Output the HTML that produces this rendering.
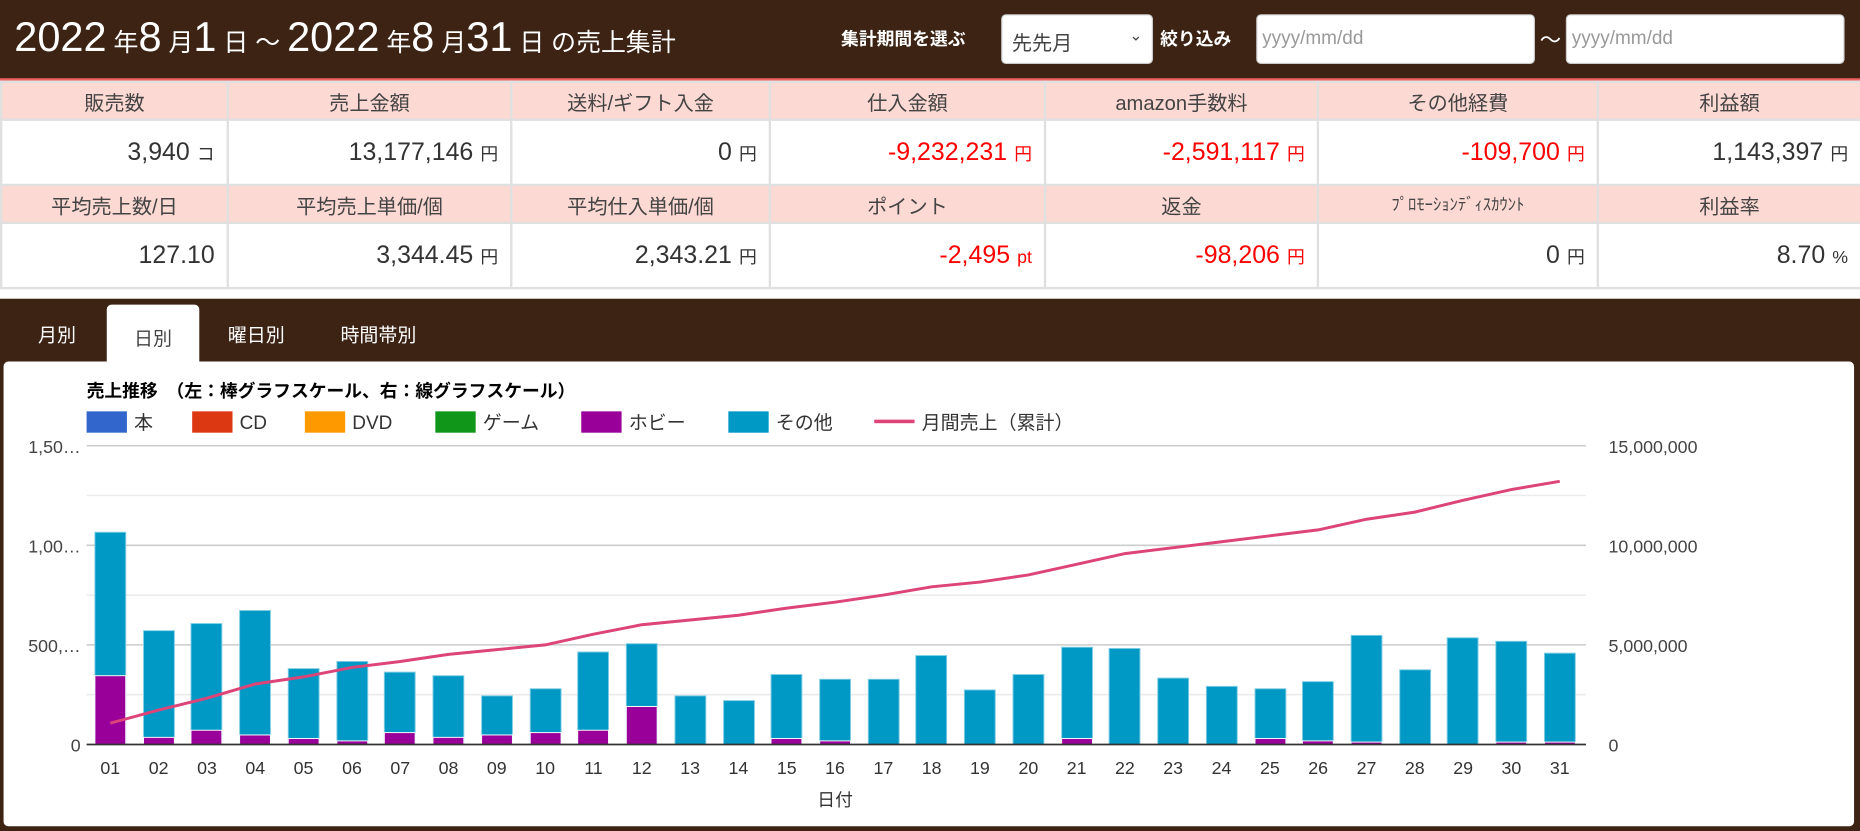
<!DOCTYPE html>
<html><head><meta charset="utf-8">
<style>
html,body{margin:0;padding:0;width:1860px;height:831px;overflow:hidden;background:#fff;}
#w{position:absolute;left:0;top:0;width:1568px;height:701px;transform:scale(1.18622,1.18545);transform-origin:0 0;font-family:"Liberation Sans","Noto Sans CJK JP",sans-serif;color:#333;}
.hdr{position:absolute;left:0;top:0;width:1568px;height:66px;background:#3c2314;border-bottom:2px solid #f06262;}
.ttl{position:absolute;left:12px;top:12px;color:#fff;font-size:21px;white-space:nowrap;}
.ttl b{font-weight:normal;font-size:35px;}
.lbl{position:absolute;color:#fff;font-weight:bold;font-size:15px;top:22px;}
.box{position:absolute;top:12px;height:42px;background:#fff;border-radius:4px;border:1px solid #ccc;box-sizing:border-box;font-size:16px;color:#999;padding:11px 4px;}
table{position:absolute;left:0;top:68px;width:1568px;border-collapse:collapse;table-layout:fixed;}
td{border:2px solid #e0e0e0;font-size:17px;}
tr.h td{background:#fdd9d3;text-align:center;height:28px;color:#444;}
tr.v td{height:51px;text-align:right;padding-right:10px;font-size:21px;color:#333;}
tr.v td small{font-size:15px;margin-left:6px;}
.r{color:#f00 !important;}
.tabs{position:absolute;left:0;top:252px;width:1568px;height:449px;background:#3c2314;}
.tab{position:absolute;top:17px;color:#fff;font-size:16px;}
.panel{position:absolute;left:3px;top:53px;width:1560px;height:392px;background:#fff;border-radius:4px;}
</style></head><body><div id="w">
<div class="hdr">
<div class="ttl"><b>2022</b> 年<b>8</b> 月<b>1</b> 日 ～ <b>2022</b> 年<b>8</b> 月<b>31</b> 日 の売上集計</div>
<div class="lbl" style="left:709px">集計期間を選ぶ</div>
<div class="box" style="left:844px;width:128px;color:#444;font-size:17px;padding:9px 8px">先先月<span style="position:absolute;right:8px;top:9px;font-size:13px">&#8964;</span></div>
<div class="lbl" style="left:978px">絞り込み</div>
<div class="box" style="left:1059px;width:235px">yyyy/mm/dd</div>
<div class="lbl" style="left:1298px;font-weight:normal;font-size:18px;top:20px">～</div>
<div class="box" style="left:1320px;width:235px">yyyy/mm/dd</div>
</div>
<table>
<colgroup><col style="width:191px"><col style="width:239px"><col style="width:218px"><col style="width:232px"><col style="width:230px"><col style="width:236px"><col style="width:222px"></colgroup>
<tr class="h"><td>販売数</td><td>売上金額</td><td>送料/ギフト入金</td><td>仕入金額</td><td>amazon手数料</td><td>その他経費</td><td>利益額</td></tr>
<tr class="v"><td>3,940<small>コ</small></td><td>13,177,146<small>円</small></td><td>0<small>円</small></td><td class="r">-9,232,231<small>円</small></td><td class="r">-2,591,117<small>円</small></td><td class="r">-109,700<small>円</small></td><td>1,143,397<small>円</small></td></tr>
<tr class="h"><td>平均売上数/日</td><td>平均売上単価/個</td><td>平均仕入単価/個</td><td>ポイント</td><td>返金</td><td style="font-size:14px">ﾌﾟﾛﾓｰｼｮﾝﾃﾞｨｽｶｳﾝﾄ</td><td>利益率</td></tr>
<tr class="v"><td>127.10</td><td>3,344.45<small>円</small></td><td>2,343.21<small>円</small></td><td class="r">-2,495<small>pt</small></td><td class="r">-98,206<small>円</small></td><td>0<small>円</small></td><td>8.70<small>%</small></td></tr>
</table>
<div class="tabs">
<div style="position:absolute;left:90px;top:5px;width:78px;height:50px;background:#fff;border-radius:4px 4px 0 0"></div>
<div class="tab" style="left:32px">月別</div>
<div class="tab" style="left:113px;color:#444;top:20px">日別</div>
<div class="tab" style="left:192px">曜日別</div>
<div class="tab" style="left:287px">時間帯別</div>
<div class="panel"></div>
</div>
<svg style="position:absolute;left:0;top:0" width="1568" height="701" font-family="Liberation Sans, Noto Sans CJK JP, sans-serif">
<text x="73" y="335" font-size="15" font-weight="bold" fill="#000">売上推移　（左：棒グラフスケール、右：線グラフスケール）</text>
<g font-size="16" fill="#333">
<rect x="73" y="347" width="34" height="18" fill="#3366cc"/><text x="113" y="362">本</text>
<rect x="162" y="347" width="34" height="18" fill="#dc3912"/><text x="202" y="362">CD</text>
<rect x="257" y="347" width="34" height="18" fill="#ff9900"/><text x="297" y="362">DVD</text>
<rect x="367" y="347" width="34" height="18" fill="#109618"/><text x="407" y="362">ゲーム</text>
<rect x="490" y="347" width="34" height="18" fill="#990099"/><text x="530" y="362">ホビー</text>
<rect x="614" y="347" width="34" height="18" fill="#0099c6"/><text x="654" y="362">その他</text>
<rect x="737" y="354" width="34" height="3" fill="#dd4477"/><text x="777" y="362">月間売上（累計）</text>
</g>
<g stroke="#ccc" stroke-width="1.3"><line x1="73" x2="1337" y1="376" y2="376"/><line x1="73" x2="1337" y1="460" y2="460"/><line x1="73" x2="1337" y1="544" y2="544"/></g>
<g stroke="#ebebeb" stroke-width="1.3"><line x1="73" x2="1337" y1="418" y2="418"/><line x1="73" x2="1337" y1="502" y2="502"/><line x1="73" x2="1337" y1="586" y2="586"/></g>
<g font-size="15" fill="#444" text-anchor="end"><text x="68" y="382">1,50…</text><text x="68" y="466">1,00…</text><text x="68" y="550">500,…</text><text x="68" y="634">0</text></g>
<g font-size="15" fill="#444"><text x="1356" y="382">15,000,000</text><text x="1356" y="466">10,000,000</text><text x="1356" y="550">5,000,000</text><text x="1356" y="634">0</text></g>
<g fill="#0099c6" stroke="#7fcde3" stroke-width="0.8">
<rect x="80" y="449" width="26" height="179"/><rect x="121" y="532" width="26" height="96"/><rect x="161" y="526" width="26" height="102"/><rect x="202" y="515" width="26" height="113"/><rect x="243" y="564" width="26" height="64"/><rect x="284" y="558" width="26" height="70"/><rect x="324" y="567" width="26" height="61"/><rect x="365" y="570" width="26" height="58"/><rect x="406" y="587" width="26" height="41"/><rect x="447" y="581" width="26" height="47"/><rect x="487" y="550" width="26" height="78"/><rect x="528" y="543" width="26" height="85"/><rect x="569" y="587" width="26" height="41"/><rect x="610" y="591" width="26" height="37"/><rect x="650" y="569" width="26" height="59"/><rect x="691" y="573" width="26" height="55"/><rect x="732" y="573" width="26" height="55"/><rect x="772" y="553" width="26" height="75"/><rect x="813" y="582" width="26" height="46"/><rect x="854" y="569" width="26" height="59"/><rect x="895" y="546" width="26" height="82"/><rect x="935" y="547" width="26" height="81"/><rect x="976" y="572" width="26" height="56"/><rect x="1017" y="579" width="26" height="49"/><rect x="1058" y="581" width="26" height="47"/><rect x="1098" y="575" width="26" height="53"/><rect x="1139" y="536" width="26" height="92"/><rect x="1180" y="565" width="26" height="63"/><rect x="1220" y="538" width="26" height="90"/><rect x="1261" y="541" width="26" height="87"/><rect x="1302" y="551" width="26" height="77"/>
</g>
<g fill="#990099" stroke="#fff" stroke-width="0.8">
<rect x="80" y="570" width="26" height="58"/><rect x="121" y="622" width="26" height="6"/><rect x="161" y="616" width="26" height="12"/><rect x="202" y="620" width="26" height="8"/><rect x="243" y="623" width="26" height="5"/><rect x="284" y="625" width="26" height="3"/><rect x="324" y="618" width="26" height="10"/><rect x="365" y="622" width="26" height="6"/><rect x="406" y="620" width="26" height="8"/><rect x="447" y="618" width="26" height="10"/><rect x="487" y="616" width="26" height="12"/><rect x="528" y="596" width="26" height="32"/><rect x="650" y="623" width="26" height="5"/><rect x="691" y="625" width="26" height="3"/><rect x="895" y="623" width="26" height="5"/><rect x="1058" y="623" width="26" height="5"/><rect x="1098" y="625" width="26" height="3"/><rect x="1139" y="626" width="26" height="2"/><rect x="1261" y="626" width="26" height="2"/><rect x="1302" y="626" width="26" height="2"/>
</g>
<line x1="73" x2="1337" y1="628" y2="628" stroke="#333" stroke-width="1.5"/>
<polyline fill="none" stroke="#dd4477" stroke-width="2.5" points="93,610 133.7,599 174.5,589 215.2,577 255.9,571 296.7,563 337.4,558 378.1,552 418.8,548 459.6,544 500.3,535 541,527 581.8,523 622.5,519 663.2,513 703.9,508 744.7,502 785.4,495 826.1,491 866.9,485 907.6,476 948.3,467 989,462 1029.8,457 1070.5,452 1111.2,447 1152,438 1192.7,432 1233.4,422 1274.1,413 1314.9,406"/>
<g font-size="15" fill="#333" text-anchor="middle">
<text x="93" y="653">01</text><text x="133.7" y="653">02</text><text x="174.5" y="653">03</text><text x="215.2" y="653">04</text><text x="255.9" y="653">05</text><text x="296.7" y="653">06</text><text x="337.4" y="653">07</text><text x="378.1" y="653">08</text><text x="418.8" y="653">09</text><text x="459.6" y="653">10</text><text x="500.3" y="653">11</text><text x="541" y="653">12</text><text x="581.8" y="653">13</text><text x="622.5" y="653">14</text><text x="663.2" y="653">15</text><text x="703.9" y="653">16</text><text x="744.7" y="653">17</text><text x="785.4" y="653">18</text><text x="826.1" y="653">19</text><text x="866.9" y="653">20</text><text x="907.6" y="653">21</text><text x="948.3" y="653">22</text><text x="989" y="653">23</text><text x="1029.8" y="653">24</text><text x="1070.5" y="653">25</text><text x="1111.2" y="653">26</text><text x="1152" y="653">27</text><text x="1192.7" y="653">28</text><text x="1233.4" y="653">29</text><text x="1274.1" y="653">30</text><text x="1314.9" y="653">31</text>
<text x="704" y="680">日付</text>
</g>
</svg>
</div></body></html>
